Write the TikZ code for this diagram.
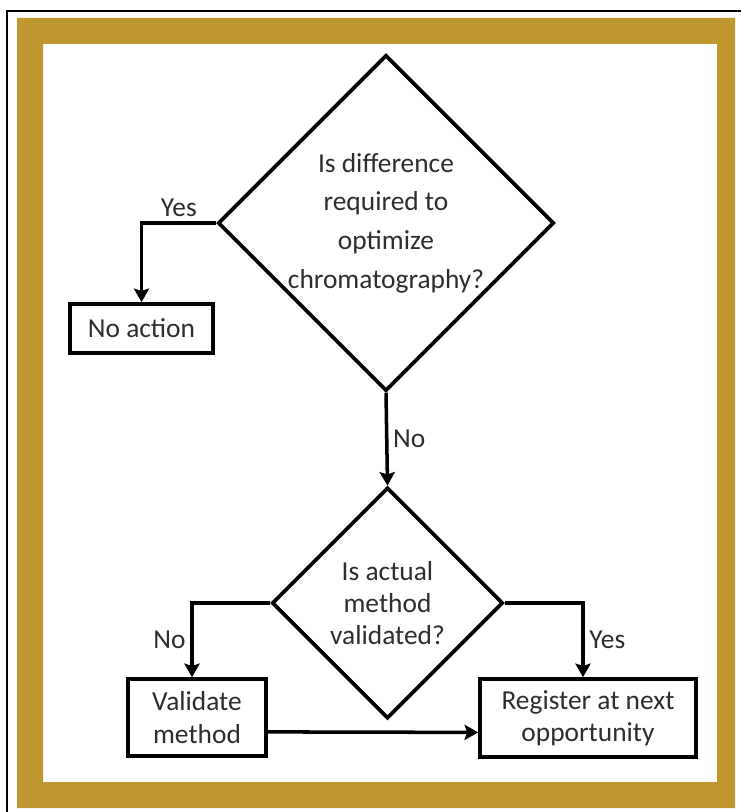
\documentclass[tikz,border=0pt]{standalone}
\usepackage{fontspec}
\setmainfont{Carlito}
\usetikzlibrary{shapes.geometric,arrows.meta}
\definecolor{framegold}{RGB}{192,150,46}
\definecolor{inktext}{RGB}{45,45,45}

\begin{document}
\begin{tikzpicture}[line join=miter, >={Stealth[length=0.34cm,width=0.38cm,inset=0.06cm]},
		every node/.style={font=\fontsize{19.5}{23}\selectfont, text=inktext},
		decision/.style={diamond, draw, line width=2.6pt, inner sep=0pt, aspect=1, align=center},
		action/.style={rectangle, draw, line width=2.6pt, inner sep=0pt, align=center},
		flow/.style={->, line width=2.5pt}]
			\useasboundingbox (0,0) rectangle (18.525,-20.3);
			% frame
			\fill[framegold, even odd rule] (0.425,-0.45) rectangle (18.375,-20.2)
				(1.075,-1.1) rectangle (17.925,-19.55);
			\draw[line width=1.5pt] (0.175,-20.3) -- (0.175,-0.275) -- (18.525,-0.275);
			% questions
			\node[decision, minimum size=8.3cm, font=\fontsize{19.5}{27.5}\selectfont] (diff) at (9.65,-5.575)
				{Is difference\\required to\\optimize\\chromatography?};
			\node[decision, minimum size=5.775cm] (valid) at (9.6875,-15.075)
				{Is actual\\method\\validated?};
			% actions
			\node[action, minimum width=3.575cm, minimum height=1.225cm] (noact) at (3.5375,-8.2125) {No action};
			\node[action, minimum width=3.45cm, minimum height=1.925cm] (valm) at (4.925,-17.9375) {Validate\\method};
			\node[action, minimum width=5.4cm, minimum height=1.95cm] (reg) at (14.7,-17.95) {Register at next\\opportunity};
			% arrows
			\draw[flow] (diff.west) -| (noact.north) node[pos=0.25, above] {Yes};
			\draw[flow] (diff.south) -- (valid.north) node[midway, right] {No};
			\draw[flow] (valid.west) -| ([xshift=-0.125cm]valm.north) node[pos=0.75, left] {No};
			\draw[flow] (valid.east) -| ([xshift=-0.125cm]reg.north) node[pos=0.75, right] {Yes};
			\draw[flow] ([yshift=-0.36cm]valm.east) -- ([yshift=-0.36cm]reg.west);
	\end{tikzpicture}
\end{document}
